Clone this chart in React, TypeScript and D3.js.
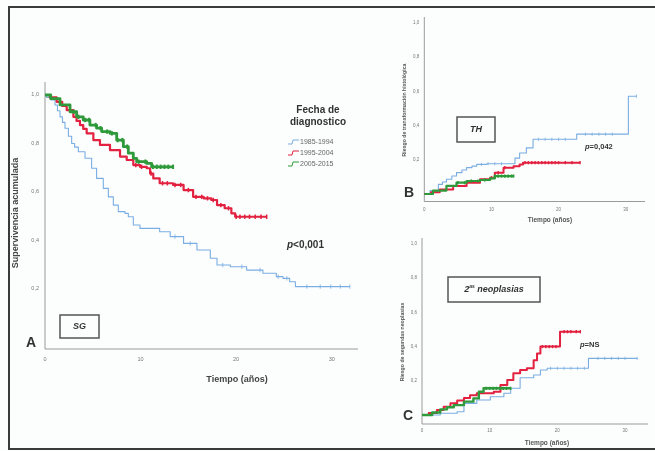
import React from "react";
import * as d3 from "d3";

// ---------- Data ----------
const groups = ["1985-1994", "1995-2004", "2005-2015"];
const groupColors = ["#7aaee3", "#e2203f", "#2f9a3a"];
const xTickValues = [0, 10, 20, 30];
const yTickValues = [0.2, 0.4, 0.6, 0.8, 1.0];

// Panel A: overall survival (SG)
const aBlueT = [0, 0.17, 0.6, 1.05, 1.3, 1.57, 1.83, 2.09, 2.45, 2.79, 3.1, 3.49, 4.19, 4.88, 5.4, 6.1, 6.63, 7.15, 7.67, 8.37, 8.72, 9.24, 9.94, 11.33, 12.0, 13.1, 14.5, 15.9, 17.3, 18.0, 19.4, 21.1, 22.8, 24.2, 24.9, 25.6, 26.2, 31.9];
const aBlueV = [1, 0.99, 0.98, 0.959, 0.935, 0.91, 0.887, 0.863, 0.83, 0.8, 0.785, 0.766, 0.739, 0.698, 0.656, 0.615, 0.58, 0.546, 0.519, 0.512, 0.498, 0.464, 0.45, 0.45, 0.436, 0.416, 0.388, 0.361, 0.327, 0.299, 0.292, 0.278, 0.265, 0.251, 0.244, 0.23, 0.21, 0.21];
const aBlueC = [13.6, 15.2, 18.6, 20.6, 22.5, 24.4, 25.3, 27.4, 28.8, 29.9, 30.9, 31.9];
const aRedT = [0, 0.5, 1.22, 1.8, 2.27, 2.97, 3.3, 3.66, 4.0, 4.36, 5.06, 5.75, 6.8, 7.85, 8.55, 9.24, 9.94, 10.64, 11.0, 11.33, 12.0, 13.4, 14.5, 15.5, 16.6, 17.4, 18.0, 18.8, 19.5, 19.9, 23.2];
const aRedV = [1, 0.99, 0.972, 0.955, 0.938, 0.91, 0.893, 0.876, 0.86, 0.842, 0.814, 0.794, 0.773, 0.746, 0.732, 0.711, 0.704, 0.698, 0.676, 0.656, 0.636, 0.629, 0.608, 0.58, 0.574, 0.567, 0.546, 0.533, 0.512, 0.498, 0.498];
const aRedC = [9.5, 10.1, 11.1, 12.3, 12.8, 13.6, 14.2, 15, 15.8, 16.4, 17, 17.6, 18.4, 19.2, 20, 20.4, 20.9, 21.4, 22, 22.6, 23.2];
const aGreenT = [0, 0.6, 1.57, 2.62, 3.31, 4.0, 4.7, 5.4, 5.93, 6.8, 7.5, 8.2, 8.72, 9.24, 9.59, 10.64, 11.16, 13.4];
const aGreenV = [1, 0.985, 0.959, 0.931, 0.91, 0.897, 0.876, 0.863, 0.849, 0.842, 0.814, 0.787, 0.76, 0.739, 0.725, 0.718, 0.704, 0.704];
const aGreenC = [3, 3.5, 4.2, 4.6, 5.3, 5.8, 6.5, 7, 7.6, 8.1, 8.6, 9.8, 10.5, 11.3, 11.7, 12.1, 12.5, 12.9, 13.4];

// Panel B: histologic transformation (TH)
const bBlueT = [0, 0.85, 2.1, 2.7, 3.3, 4.1, 4.8, 5.6, 6.3, 7.1, 7.8, 9.3, 13, 13.5, 14.2, 15.2, 16.2, 22.7, 30.4, 31.6];
const bBlueV = [0, 0.02, 0.056, 0.07, 0.086, 0.105, 0.125, 0.14, 0.154, 0.163, 0.173, 0.177, 0.177, 0.21, 0.24, 0.27, 0.32, 0.35, 0.572, 0.572];
const bBlueC = [8.5, 9.5, 10.5, 11.5, 17, 18, 19, 20, 21, 24, 25, 26, 27, 28, 31.6];
const bRedT = [0, 1, 2.3, 4.3, 6.3, 8.3, 9.8, 10.5, 11.8, 13.3, 14.2, 14.7, 23.2];
const bRedV = [0, 0.01, 0.027, 0.047, 0.066, 0.086, 0.095, 0.125, 0.154, 0.163, 0.173, 0.183, 0.183];
const bRedC = [10, 11, 12, 15, 15.5, 16, 16.5, 17, 17.5, 18, 18.5, 19, 19.5, 20, 21, 22, 23.2];
const bGreenT = [0, 1.3, 3.3, 4.8, 6.3, 8.3, 9.8, 10.5, 13.3];
const bGreenV = [0, 0.02, 0.047, 0.066, 0.076, 0.082, 0.091, 0.105, 0.105];
const bGreenC = [5, 6, 7, 8, 9, 10.5, 11, 11.5, 12, 12.5, 13, 13.3];

// Panel C: second neoplasms
const cBlueT = [0, 2.7, 5.2, 6.2, 8.1, 10.1, 12.1, 13.1, 14.5, 16.5, 17.5, 18.5, 24.6, 31.8];
const cBlueV = [0, 0.01, 0.019, 0.068, 0.088, 0.107, 0.127, 0.156, 0.218, 0.234, 0.263, 0.273, 0.331, 0.331];
const cBlueC = [19, 20, 21, 22, 23, 24, 26, 27, 28, 29, 30, 31.8];
const cRedT = [0, 1, 2.2, 3.2, 4.2, 5.2, 6.2, 7.1, 8.1, 10.6, 11.6, 12.6, 13.5, 14.5, 15.5, 16.5, 17, 17.5, 20.4, 23.4];
const cRedV = [0, 0.012, 0.029, 0.048, 0.068, 0.085, 0.1, 0.115, 0.127, 0.136, 0.175, 0.205, 0.244, 0.263, 0.273, 0.32, 0.36, 0.4, 0.487, 0.487];
const cRedC = [17.8, 18.3, 18.8, 19.3, 19.8, 21, 21.5, 22, 22.8, 23.4];
const cGreenT = [0, 1.5, 2.7, 3.7, 4.7, 6.2, 7.6, 8.4, 9.1, 13.1];
const cGreenV = [0, 0.015, 0.033, 0.045, 0.058, 0.078, 0.097, 0.136, 0.156, 0.156];
const cGreenC = [9.5, 10, 10.5, 11, 11.5, 12, 12.5, 13.1];

const FONT = "'Liberation Sans', Arial, sans-serif";
const fmt = (v: number) => v.toFixed(1).replace(".", ",");

type Series = { t: number[]; v: number[]; c: number[] };

function stepValue(s: Series, t: number) {
  const i = d3.bisectRight(s.t, t) - 1;
  return s.v[Math.max(0, Math.min(i, s.v.length - 1))];
}

function Curves({ series, x, y, widths, tick }: any) {
  return (
    <g>
      {series.map((s: Series, k: number) => {
        const line = d3
          .line<number>()
          .x((_, i) => x(s.t[i]))
          .y((d) => y(d))
          .curve(d3.curveStepAfter);
        return (
          <g key={k}>
            <path d={line(s.v) || ""} fill="none" stroke={groupColors[k]} strokeWidth={widths[k]} strokeLinejoin="round" />
            {s.c.map((ct, j) => {
              const cx = x(ct);
              const cy = y(stepValue(s, ct));
              return (
                <line key={j} x1={cx} x2={cx} y1={cy - tick} y2={cy + tick} stroke={groupColors[k]} strokeWidth={Math.max(0.8, widths[k] * 0.7)} />
              );
            })}
          </g>
        );
      })}
    </g>
  );
}

function Axes({ x, y, x0, xEnd, yTop, axisY, tickFont, labelDx, labelDy }: any) {
  return (
    <g>
      <line x1={x0} x2={x0} y1={yTop} y2={axisY} stroke="#9a9a9a" strokeWidth={1} />
      <line x1={x0} x2={xEnd} y1={axisY} y2={axisY} stroke="#9a9a9a" strokeWidth={1} />
      {yTickValues.map((v) => (
        <text key={"y" + v} x={x0 - labelDx} y={y(v)} fontSize={tickFont} fill="#777" textAnchor="end" dominantBaseline="middle" fontFamily={FONT}>
          {fmt(v)}
        </text>
      ))}
      {xTickValues.map((v) => (
        <text key={"x" + v} x={x(v)} y={axisY + labelDy} fontSize={tickFont} fill="#777" textAnchor="middle" dominantBaseline="middle" fontFamily={FONT}>
          {v}
        </text>
      ))}
    </g>
  );
}

export default function App() {
  const xA = d3.scaleLinear().domain([0, 30]).range([45, 331.7]);
  const yA = d3.scaleLinear().domain([0, 1]).range([337.5, 95]);
  const xB = d3.scaleLinear().domain([0, 30]).range([424.3, 625.7]);
  const yB = d3.scaleLinear().domain([0, 1]).range([194, 23]);
  const xC = d3.scaleLinear().domain([0, 30]).range([422, 625]);
  const yC = d3.scaleLinear().domain([0, 1]).range([415, 244]);

  const seriesA: Series[] = [
    { t: aBlueT, v: aBlueV, c: aBlueC },
    { t: aRedT, v: aRedV, c: aRedC },
    { t: aGreenT, v: aGreenV, c: aGreenC },
  ];
  const seriesB: Series[] = [
    { t: bBlueT, v: bBlueV, c: bBlueC },
    { t: bRedT, v: bRedV, c: bRedC },
    { t: bGreenT, v: bGreenV, c: bGreenC },
  ];
  const seriesC: Series[] = [
    { t: cBlueT, v: cBlueV, c: cBlueC },
    { t: cRedT, v: cRedV, c: cRedC },
    { t: cGreenT, v: cGreenV, c: cGreenC },
  ];

  const legendY = [142, 153, 164];

  return (
    <svg width={655} height={451} style={{ position: "absolute", left: 0, top: 0 }} fontFamily={FONT}>
      <defs>
        <filter id="soft" x="-5%" y="-5%" width="110%" height="110%">
          <feGaussianBlur stdDeviation="0.4" />
        </filter>
      </defs>
      <rect x={0} y={0} width={655} height={451} fill="#fcfdfd" />
      <g filter="url(#soft)">
        {/* Frame */}
        <line x1={8} x2={655} y1={7} y2={7} stroke="#3a3a3a" strokeWidth={2} />
        <line x1={9} x2={9} y1={7} y2={449} stroke="#3a3a3a" strokeWidth={2} />
        <line x1={8} x2={655} y1={449} y2={449} stroke="#3a3a3a" strokeWidth={2} />

        {/* ---------- Panel A ---------- */}
        <Axes x={xA} y={yA} x0={45} xEnd={358} yTop={82} axisY={349} tickFont={5.5} labelDx={6} labelDy={11} />
        <Curves series={seriesA} x={xA} y={yA} widths={[1.1, 2.2, 2.8]} tick={2.2} />
        <text transform="translate(16,213) rotate(-90)" textAnchor="middle" dominantBaseline="middle" fontSize={9} fontWeight="bold" fill="#444">
          Supervivencia acumulada
        </text>
        <text x={237} y={380} textAnchor="middle" dominantBaseline="middle" fontSize={9} fontWeight="bold" fill="#444">
          Tiempo (años)
        </text>
        <text x={318} y={110} textAnchor="middle" dominantBaseline="middle" fontSize={10} fontWeight="bold" fill="#333">
          Fecha de
        </text>
        <text x={318} y={122} textAnchor="middle" dominantBaseline="middle" fontSize={10} fontWeight="bold" fill="#333">
          diagnostico
        </text>
        {groups.map((g, i) => (
          <g key={g}>
            <path d={`M288,${legendY[i] + 2} L292,${legendY[i] + 2} L293,${legendY[i] - 2} L299,${legendY[i] - 2}`} fill="none" stroke={groupColors[i]} strokeWidth={1} />
            <text x={300} y={legendY[i]} dominantBaseline="middle" fontSize={7} fill="#666">
              {g}
            </text>
          </g>
        ))}
        <text x={287} y={245} dominantBaseline="middle" fontSize={10} fontWeight="bold" fill="#333">
          <tspan fontStyle="italic">p</tspan>&lt;0,001
        </text>
        <rect x={60} y={315} width={39} height={23} fill="none" stroke="#555" strokeWidth={1.5} />
        <text x={79.5} y={327} textAnchor="middle" dominantBaseline="middle" fontSize={9} fontWeight="bold" fontStyle="italic" fill="#333">
          SG
        </text>
        <text x={26} y={347} fontSize={14} fontWeight="bold" fill="#333">
          A
        </text>

        {/* ---------- Panel B ---------- */}
        <Axes x={xB} y={yB} x0={424.3} xEnd={645} yTop={17} axisY={201.5} tickFont={4.5} labelDx={5} labelDy={8} />
        <Curves series={seriesB} x={xB} y={yB} widths={[1.1, 2.0, 2.2]} tick={1.6} />
        <text transform="translate(405,110) rotate(-90)" textAnchor="middle" dominantBaseline="middle" fontSize={5.2} fontWeight="bold" fill="#555">
          Riesgo de transformación histológica
        </text>
        <text x={550} y={220} textAnchor="middle" dominantBaseline="middle" fontSize={6.5} fontWeight="bold" fill="#555">
          Tiempo (años)
        </text>
        <rect x={457} y={117} width={38} height={25} fill="none" stroke="#555" strokeWidth={1.5} />
        <text x={476} y={129.5} textAnchor="middle" dominantBaseline="middle" fontSize={9} fontWeight="bold" fontStyle="italic" fill="#333">
          TH
        </text>
        <text x={585} y={147} dominantBaseline="middle" fontSize={7.5} fontWeight="bold" fill="#333">
          <tspan fontStyle="italic">p</tspan>=0,042
        </text>
        <text x={404} y={197} fontSize={14} fontWeight="bold" fill="#333">
          B
        </text>

        {/* ---------- Panel C ---------- */}
        <Axes x={xC} y={yC} x0={422} xEnd={648} yTop={238} axisY={424} tickFont={4.5} labelDx={5} labelDy={7} />
        <Curves series={seriesC} x={xC} y={yC} widths={[1.1, 2.0, 2.4]} tick={1.6} />
        <text transform="translate(403,342) rotate(-90)" textAnchor="middle" dominantBaseline="middle" fontSize={5.2} fontWeight="bold" fill="#555">
          Riesgo de segundas neoplasias
        </text>
        <text x={547} y={443} textAnchor="middle" dominantBaseline="middle" fontSize={6.5} fontWeight="bold" fill="#555">
          Tiempo (años)
        </text>
        <rect x={448} y={277} width={92} height={25} fill="none" stroke="#555" strokeWidth={1.5} />
        <text x={494} y={290} textAnchor="middle" dominantBaseline="middle" fontSize={9} fontWeight="bold" fontStyle="italic" fill="#333">
          2<tspan fontSize={5} dy={-3}>as</tspan>
          <tspan dy={3}> neoplasias</tspan>
        </text>
        <text x={580} y={345} dominantBaseline="middle" fontSize={7.5} fontWeight="bold" fill="#333">
          <tspan fontStyle="italic">p</tspan>=NS
        </text>
        <text x={403} y={420} fontSize={14} fontWeight="bold" fill="#333">
          C
        </text>
      </g>
    </svg>
  );
}
